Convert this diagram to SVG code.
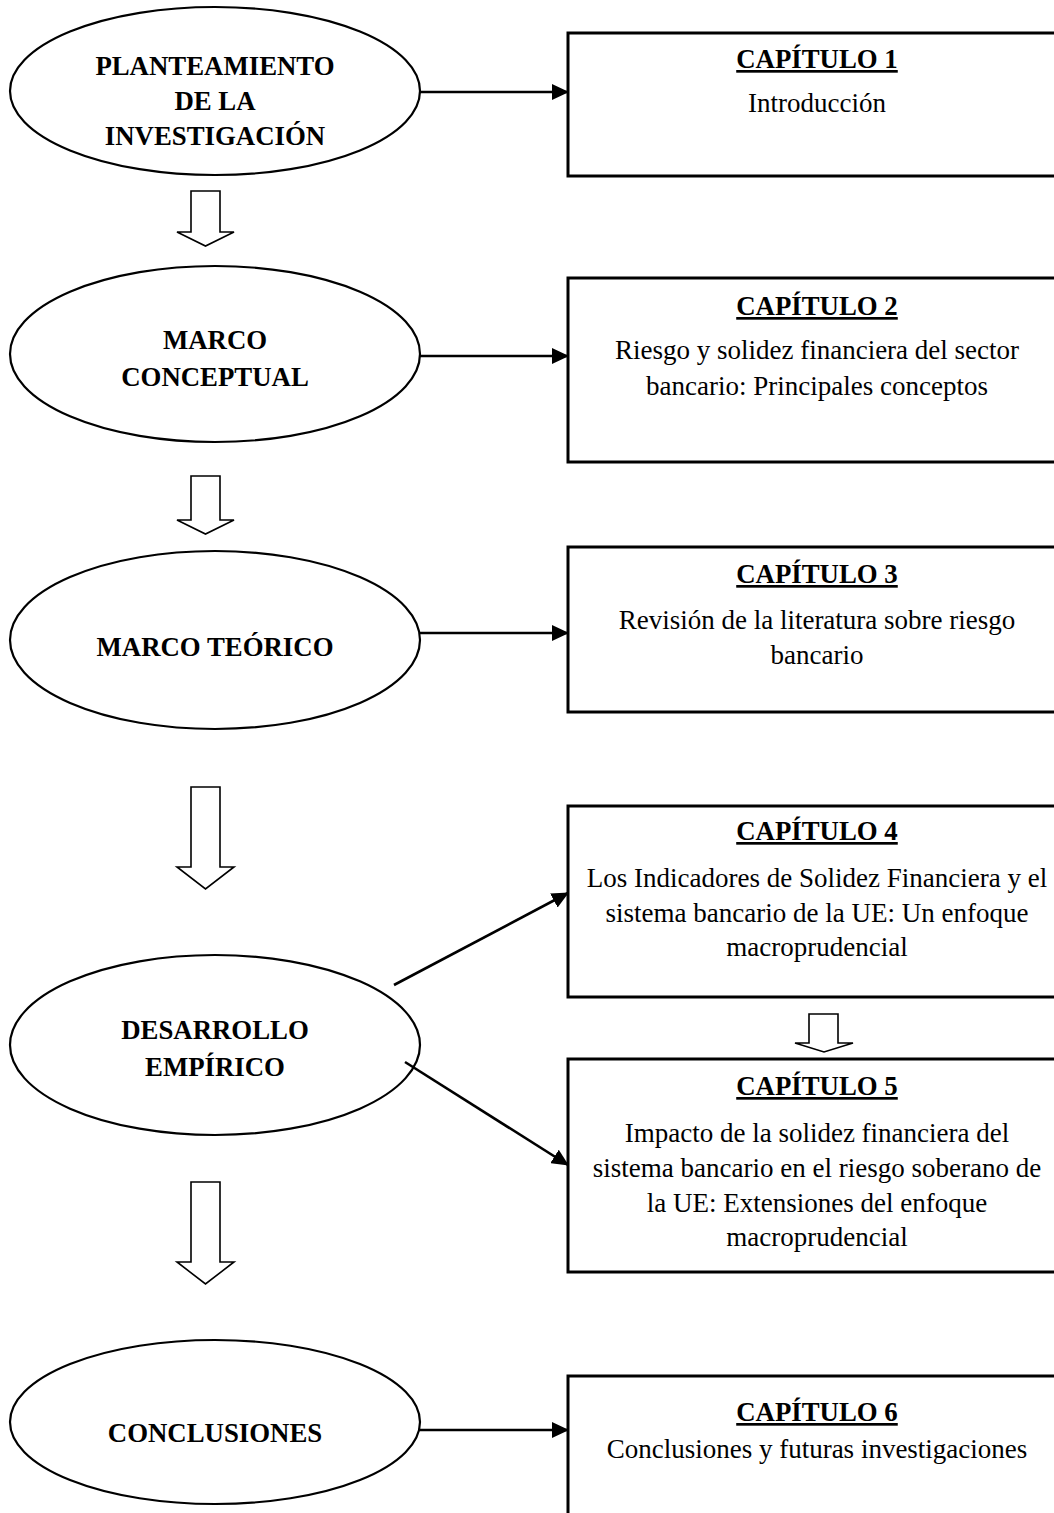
<svg xmlns="http://www.w3.org/2000/svg" width="1054" height="1513" viewBox="0 0 1054 1513">
  <style>
    .ell { fill: #fff; stroke: #000; stroke-width: 2.2; }
    .box { fill: #fff; stroke: #000; stroke-width: 3; }
    .blk { fill: #fff; stroke: #000; stroke-width: 1.6; stroke-linejoin: miter; }
    .lbl { font-family: "Liberation Serif", "Times New Roman", serif; font-size: 26.8px; font-weight: bold; text-anchor: middle; fill: #000; }
    .hd { font-family: "Liberation Serif", "Times New Roman", serif; font-size: 26.8px; font-weight: bold; text-anchor: middle; text-decoration: underline; fill: #000; }
    .tx { font-family: "Liberation Serif", "Times New Roman", serif; font-size: 27px; text-anchor: middle; fill: #000; }
    .con { stroke: #000; stroke-width: 2.6; fill: none; marker-end: url(#head); }
  </style>
  <defs>
    <marker id="head" markerUnits="userSpaceOnUse" markerWidth="17" markerHeight="16" refX="16" refY="8" orient="auto">
      <path d="M0,0 L17,8 L0,16 Z" fill="#000"/>
    </marker>
  </defs>
  <rect width="1054" height="1513" fill="#fff"/>

  <!-- left column: stages -->
  <g id="stage-planteamiento">
    <ellipse class="ell" cx="215" cy="91" rx="205" ry="84"/>
    <text class="lbl" x="215" y="75">PLANTEAMIENTO</text>
    <text class="lbl" x="215" y="110">DE LA</text>
    <text class="lbl" x="215" y="145">INVESTIGACIÓN</text>
  </g>
  <g id="stage-conceptual">
    <ellipse class="ell" cx="215" cy="354" rx="205" ry="88"/>
    <text class="lbl" x="215" y="349">MARCO</text>
    <text class="lbl" x="215" y="386">CONCEPTUAL</text>
  </g>
  <g id="stage-teorico">
    <ellipse class="ell" cx="215" cy="640" rx="205" ry="89"/>
    <text class="lbl" x="215" y="656">MARCO TEÓRICO</text>
  </g>
  <g id="stage-empirico">
    <ellipse class="ell" cx="215" cy="1045" rx="205" ry="90"/>
    <text class="lbl" x="215" y="1039">DESARROLLO</text>
    <text class="lbl" x="215" y="1076">EMPÍRICO</text>
  </g>
  <g id="stage-conclusiones">
    <ellipse class="ell" cx="215" cy="1422" rx="205" ry="82"/>
    <text class="lbl" x="215" y="1442">CONCLUSIONES</text>
  </g>

  <!-- right column: chapters -->
  <g id="cap1">
    <rect class="box" x="568" y="33" width="500" height="143"/>
    <text class="hd" x="817" y="68">CAPÍTULO 1</text>
    <text class="tx" x="817" y="112">Introducción</text>
  </g>
  <g id="cap2">
    <rect class="box" x="568" y="278" width="500" height="184"/>
    <text class="hd" x="817" y="315">CAPÍTULO 2</text>
    <text class="tx" x="817" y="359">Riesgo y solidez financiera del sector</text>
    <text class="tx" x="817" y="395">bancario: Principales conceptos</text>
  </g>
  <g id="cap3">
    <rect class="box" x="568" y="547" width="500" height="165"/>
    <text class="hd" x="817" y="583">CAPÍTULO 3</text>
    <text class="tx" x="817" y="629">Revisión de la literatura sobre riesgo</text>
    <text class="tx" x="817" y="664">bancario</text>
  </g>
  <g id="cap4">
    <rect class="box" x="568" y="806" width="500" height="191"/>
    <text class="hd" x="817" y="840">CAPÍTULO 4</text>
    <text class="tx" x="817" y="887">Los Indicadores de Solidez Financiera y el</text>
    <text class="tx" x="817" y="922">sistema bancario de la UE: Un enfoque</text>
    <text class="tx" x="817" y="956">macroprudencial</text>
  </g>
  <g id="cap5">
    <rect class="box" x="568" y="1059" width="500" height="213"/>
    <text class="hd" x="817" y="1095">CAPÍTULO 5</text>
    <text class="tx" x="817" y="1142">Impacto de la solidez financiera del</text>
    <text class="tx" x="817" y="1177">sistema bancario en el riesgo soberano de</text>
    <text class="tx" x="817" y="1212">la UE: Extensiones del enfoque</text>
    <text class="tx" x="817" y="1246">macroprudencial</text>
  </g>
  <g id="cap6">
    <rect class="box" x="568" y="1376" width="500" height="200"/>
    <text class="hd" x="817" y="1421">CAPÍTULO 6</text>
    <text class="tx" x="817" y="1458">Conclusiones y futuras investigaciones</text>
  </g>

  <!-- connectors -->
  <g id="connectors">
    <line class="con" x1="420" y1="92" x2="568" y2="92"/>
    <line class="con" x1="420" y1="356" x2="568" y2="356"/>
    <line class="con" x1="420" y1="633" x2="568" y2="633"/>
    <line class="con" x1="394" y1="985" x2="568" y2="893"/>
    <line class="con" x1="405" y1="1062" x2="568" y2="1165"/>
    <line class="con" x1="418" y1="1430" x2="568" y2="1430"/>
    <!-- block arrows -->
    <path class="blk" d="M191,191 H220 V232 H234 L205.5,246 L177,232 H191 Z"/>
    <path class="blk" d="M191,476 H220 V520 H234 L205.5,534 L177,520 H191 Z"/>
    <path class="blk" d="M191,787 H220 V867 H234 L205.5,889 L177,867 H191 Z"/>
    <path class="blk" d="M191,1182 H220 V1262 H234 L205.5,1284 L177,1262 H191 Z"/>
    <path class="blk" d="M809,1014 H838 V1043 H853 L824,1052 L795,1043 H809 Z"/>
  </g>
</svg>
